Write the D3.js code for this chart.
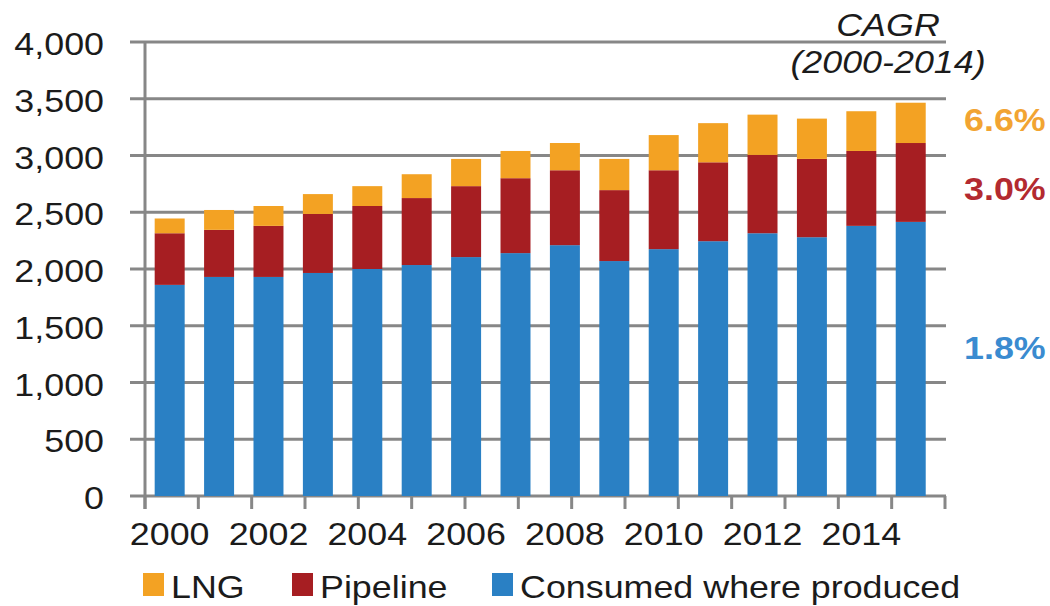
<!DOCTYPE html>
<html>
<head>
<meta charset="utf-8">
<script src="https://cdn.jsdelivr.net/npm/d3@7"></script>
<style>
  body { margin: 0; background: #fff; }
  svg text { font-family: "Liberation Sans", Arial, sans-serif; fill: #1b1b1b; }
</style>
</head>
<body>
<svg width="1050" height="606"></svg>
<script>
  // data
  const years = [2000, 2001, 2002, 2003, 2004, 2005, 2006, 2007, 2008, 2009, 2010, 2011, 2012, 2013, 2014, 2015];
  const consumed = [1860, 1930, 1930, 1965, 2000, 2035, 2105, 2140, 2210, 2070, 2175, 2245, 2315, 2280, 2380, 2415];
  const pipeline = [455, 415, 450, 520, 555, 590, 625, 660, 660, 625, 695, 695, 690, 690, 660, 695];
  const lng = [130, 175, 175, 175, 175, 210, 240, 240, 240, 275, 310, 345, 355, 355, 350, 355];
  const yTicks = [0, 500, 1000, 1500, 2000, 2500, 3000, 3500, 4000];
  const xLabelYears = [2000, 2002, 2004, 2006, 2008, 2010, 2012, 2014];
  const seriesNames = ["Consumed where produced", "Pipeline", "LNG"];
  const legendOrder = ["LNG", "Pipeline", "Consumed where produced"];
  const cagr = ["1.8%", "3.0%", "6.6%"];

  const colors = { "LNG": "#f3a223", "Pipeline": "#a61e22", "Consumed where produced": "#2a80c4" };
  const textColors = { "LNG": "#f2a432", "Pipeline": "#b32a30", "Consumed where produced": "#3a8bd0" };
  const stretch = 1.12; // the source text is slightly wide

  const svg = d3.select("svg");
  const x = d3.scaleBand().domain(years).range([145, 935.4]).paddingInner(0.393).paddingOuter(0.196);
  const y = d3.scaleLinear().domain([0, 4000]).range([496, 42]);
  const tickPos = d3.scaleLinear().domain([0, 15]).range([145, 945]);

  const label = (g, tx, ty, txt, anchor) =>
    g.append("text")
      .attr("transform", `translate(${tx},${ty}) scale(${stretch},1)`)
      .attr("text-anchor", anchor)
      .text(txt);

  // grid
  svg.append("g").selectAll("line").data(yTicks).join("line")
    .attr("x1", 130).attr("x2", 946)
    .attr("y1", d => y(d)).attr("y2", d => y(d))
    .attr("stroke", "#878787").attr("stroke-width", 3);

  // y axis line + x ticks
  svg.append("line").attr("x1", 145).attr("x2", 145).attr("y1", y(4000) - 1).attr("y2", 509)
    .attr("stroke", "#878787").attr("stroke-width", 3);
  svg.append("g").selectAll("line").data(d3.range(16)).join("line")
    .attr("x1", d => tickPos(d)).attr("x2", d => tickPos(d))
    .attr("y1", 496).attr("y2", 509)
    .attr("stroke", "#878787").attr("stroke-width", 3);

  // stacked bars
  const table = years.map((yr, i) => ({
    year: yr,
    "Consumed where produced": consumed[i],
    "Pipeline": pipeline[i],
    "LNG": lng[i]
  }));
  const stacked = d3.stack().keys(seriesNames)(table);
  svg.append("g").selectAll("g").data(stacked).join("g")
    .attr("fill", d => colors[d.key])
    .selectAll("rect").data(d => d).join("rect")
    .attr("x", d => x(d.data.year))
    .attr("width", x.bandwidth())
    .attr("y", d => y(d[1]))
    .attr("height", d => y(d[0]) - y(d[1]));

  // axis labels
  const fs = 32;
  const yl = svg.append("g").attr("font-size", fs);
  yTicks.forEach(t => label(yl, 104, y(t) + 13, d3.format(",")(t), "end"));
  const xl = svg.append("g").attr("font-size", fs);
  xLabelYears.forEach(yr => label(xl, x(yr) + x.bandwidth() / 2, 545, yr, "middle"));

  // CAGR header
  const hd = svg.append("g").attr("font-size", fs).attr("font-style", "italic");
  label(hd, 888, 36, "CAGR", "middle");
  label(hd, 888, 73, "(2000-2014)", "middle");

  // CAGR values, placed against the value scale
  const cagrAt = [1313, 2714, 3322];
  const cg = svg.append("g").attr("font-size", fs).attr("font-weight", "bold");
  seriesNames.forEach((s, i) => {
    label(cg, 964, y(cagrAt[i]) + 12, cagr[i], "start").style("fill", textColors[s]);
  });

  // legend
  const legX = [143, 292, 492];
  const lg = svg.append("g").attr("font-size", fs);
  legendOrder.forEach((s, i) => {
    lg.append("rect").attr("x", legX[i]).attr("y", 573).attr("width", 21).attr("height", 23).attr("fill", colors[s]);
    label(lg, legX[i] + 28, 598, s, "start");
  });
</script>
</body>
</html>
